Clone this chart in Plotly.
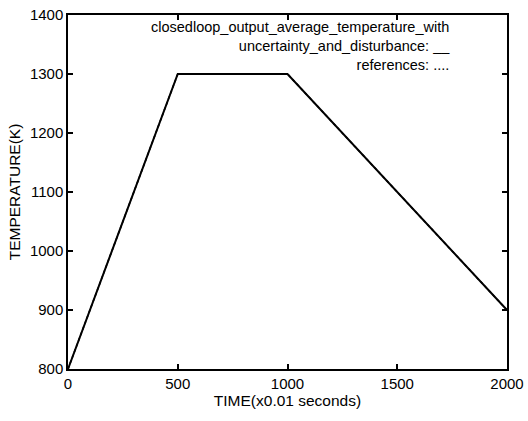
import plotly.graph_objects as go

time_output = [0, 500, 1000, 2000]
temp_output = [800, 1300, 1300, 900]
time_ref = [0, 500, 1000, 2000]
temp_ref = [800, 1300, 1300, 900]
x_ticks = [0, 500, 1000, 1500, 2000]
y_ticks = [800, 900, 1000, 1100, 1200, 1300, 1400]
legend_lines = [
    "closedloop_output_average_temperature_with",
    "uncertainty_and_disturbance: __",
    "references: ....",
]

fig = go.Figure()
fig.add_trace(go.Scatter(x=time_ref, y=temp_ref, mode="lines",
                         line=dict(color="black", width=1.5, dash="dot"),
                         name="references", showlegend=False))
fig.add_trace(go.Scatter(x=time_output, y=temp_output, mode="lines",
                         line=dict(color="black", width=2),
                         name="closedloop output", showlegend=False))

font = "Liberation Sans, Arial, sans-serif"
axis_common = dict(showline=True, linecolor="black", linewidth=1.5, mirror="ticks",
                   ticks="inside", ticklen=5, tickcolor="black", tickwidth=1.5,
                   showgrid=False, zeroline=False, automargin=False,
                   tickfont=dict(family=font, size=15, color="black"))

L, R, T, B = 68, 507, 15, 369
fig.update_layout(
    width=528, height=421,
    margin=dict(l=L, r=528 - R, t=T, b=421 - B),
    paper_bgcolor="white", plot_bgcolor="white",
    font=dict(family=font, color="black"),
    xaxis=dict(range=[0, 2000], tickvals=x_ticks,
               title=dict(text="TIME(x0.01 seconds)", font=dict(family=font, size=15.5), standoff=4),
               **axis_common),
    yaxis=dict(range=[800, 1400], tickvals=y_ticks,
               title=dict(text="TEMPERATURE(K)", font=dict(family=font, size=15.5), standoff=5),
               **axis_common),
)

fig.add_annotation(
    x=(452 - L) / (R - L), y=(B - 17) / (B - T), xref="paper", yref="paper",
    xanchor="right", yanchor="top", align="right",
    text="<br>".join(legend_lines), showarrow=False,
    font=dict(family=font, size=14.5, color="black"),
)

fig.write_html("out.html", config={"displayModeBar": False},
               post_script="document.body.style.margin='0';")
